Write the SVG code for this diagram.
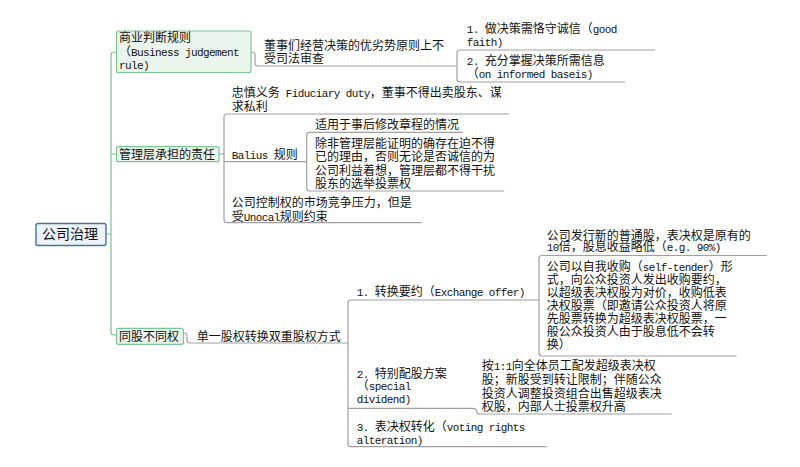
<svg xmlns="http://www.w3.org/2000/svg" width="800" height="467" viewBox="0 0 800 467">
<style>
.t{font-family:"Noto Sans CJK SC","Noto Sans CJK JP",sans-serif;font-size:12px;fill:#111}
.m{font-family:"Liberation Mono","DejaVu Sans Mono",monospace;font-size:11px;letter-spacing:-0.6px}
.g{fill:none;stroke:#78C48F;stroke-width:1.2}
.c{fill:none;stroke:#A0A0A0;stroke-width:1.2}
.gb{fill:#EAF5ED;stroke:#7CC693;stroke-width:1.2}
.rb{fill:#EEF3FA;stroke:#4472A8;stroke-width:1.4}
</style>
<rect width="800" height="467" fill="#fff"/>
<g id="connectors">
<path class="g" d="M106,234 H111 M116,52 H114 Q111,52 111,55 V332 Q111,335 114,335 H116 M111,154 H116"/>
<path class="c" d="M251,52 H252.5 Q255,52 255,55 V63 Q255,66 258,66 H457"/>
<path class="c" d="M655,50 H460 Q457,50 457,53 V79 Q457,82 460,82 H625"/>
<path class="c" d="M219,154 H224"/>
<path class="c" d="M509,114 H227 Q224,114 224,117 V219.7 Q224,222.7 227,222.7 H421.7 M224,161.7 H306.7"/>
<path class="c" d="M462.7,132.3 H309.7 Q306.7,132.3 306.7,135.3 V188 Q306.7,191 309.7,191 H504.3"/>
<path class="c" d="M184,333 H185 Q187,333 187,336 V340 Q187,343 190,343 H348"/>
<path class="c" d="M539,300 H351 Q348,300 348,303 V443.7 Q348,446.7 351,446.7 H546.7 M348,408.3 H472"/>
<path class="c" d="M766.7,255.5 H542 Q539,255.5 539,258.5 V353 Q539,356 542,356 H736.7"/>
<path class="c" d="M472,408.3 Q476.7,408.3 476.7,411.5 Q476.7,414 479.5,414 H671.7"/>
</g>
<g id="root">
<rect class="rb" x="36" y="223.5" width="70" height="22" rx="2"/>
<text class="t" x="42" y="239" style="font-size:14px">公司治理</text>
</g>
<g id="n1">
<rect class="gb" x="116.5" y="31" width="134.5" height="41.5" rx="2"/>
<text class="t" x="119" y="42.3">商业判断规则</text>
<text class="t" x="119" y="55.7">（<tspan class="m">Business judgement</tspan></text>
<text class="t" x="119" y="68.5"><tspan class="m">rule)</tspan></text>
</g>
<g id="n1a">
<text class="t" x="264" y="49.5">董事们经营决策的优劣势原则上不</text>
<text class="t" x="264" y="62.7">受司法审查</text>
</g>
<g id="n1a1">
<text class="t" x="466.7" y="33.3"><tspan class="m">1. </tspan>做决策需恪守诚信（<tspan class="m">good</tspan></text>
<text class="t" x="466.7" y="45.7"><tspan class="m">faith)</tspan></text>
</g>
<g id="n1a2">
<text class="t" x="466.7" y="64.7"><tspan class="m">2. </tspan>充分掌握决策所需信息</text>
<text class="t" x="466.7" y="77.5">（<tspan class="m">on informed baseis)</tspan></text>
</g>
<g id="n2">
<rect class="gb" x="116.5" y="146.7" width="102.5" height="15" rx="2"/>
<text class="t" x="119" y="159">管理层承担的责任</text>
</g>
<g id="n2a">
<text class="t" x="231.7" y="97.3">忠慎义务<tspan class="m"> Fiduciary duty</tspan>，董事不得出卖股东、谋</text>
<text class="t" x="231.7" y="110.5">求私利</text>
</g>
<g id="n2b">
<text class="t" x="231.7" y="159"><tspan class="m">Balius </tspan>规则</text>
</g>
<g id="n2b1">
<text class="t" x="315" y="129">适用于事后修改章程的情况</text>
</g>
<g id="n2b2">
<text class="t" x="315" y="147.5">除非管理层能证明的确存在迫不得</text>
<text class="t" x="315" y="161">已的理由，否则无论是否诚信的为</text>
<text class="t" x="315" y="174.5">公司利益着想，管理层都不得干扰</text>
<text class="t" x="315" y="188">股东的选举投票权</text>
</g>
<g id="n2c">
<text class="t" x="231.7" y="207.3">公司控制权的市场竞争压力，但是</text>
<text class="t" x="231.7" y="220.7">受<tspan class="m">Unocal</tspan>规则约束</text>
</g>
<g id="n3">
<rect class="gb" x="116.5" y="328.3" width="67" height="16" rx="2"/>
<text class="t" x="119" y="341">同股不同权</text>
</g>
<g id="n3a">
<text class="t" x="196.7" y="341">单一股权转换双重股权方式</text>
</g>
<g id="n3a1">
<text class="t" x="356.7" y="296"><tspan class="m">1. </tspan>转换要约（<tspan class="m">Exchange offer)</tspan></text>
</g>
<g id="n3a1a">
<text class="t" x="546.7" y="239.5">公司发行新的普通股，表决权是原有的</text>
<text class="t" x="546.7" y="251"><tspan class="m">10</tspan>倍，股息收益略低（<tspan class="m">e.g. 90%)</tspan></text>
</g>
<g id="n3a1b">
<text class="t" x="546.7" y="270.5">公司以自我收购（<tspan class="m">self-tender</tspan>）形</text>
<text class="t" x="546.7" y="283.5">式，向公众投资人发出收购要约，</text>
<text class="t" x="546.7" y="296.5">以超级表决权股为对价，收购低表</text>
<text class="t" x="546.7" y="309.5">决权股票（即邀请公众投资人将原</text>
<text class="t" x="546.7" y="322.5">先股票转换为超级表决权股票，一</text>
<text class="t" x="546.7" y="335.5">般公众投资人由于股息低不会转</text>
<text class="t" x="546.7" y="348.5">换）</text>
</g>
<g id="n3a2">
<text class="t" x="356.7" y="377.5"><tspan class="m">2. </tspan>特别配股方案</text>
<text class="t" x="356.7" y="390">（<tspan class="m">special</tspan></text>
<text class="t" x="356.7" y="403"><tspan class="m">dividend)</tspan></text>
</g>
<g id="n3a2a">
<text class="t" x="481.7" y="369.5">按<tspan class="m">1:1</tspan>向全体员工配发超级表决权</text>
<text class="t" x="481.7" y="383.5">股；新股受到转让限制；伴随公众</text>
<text class="t" x="481.7" y="397.5">投资人调整投资组合出售超级表决</text>
<text class="t" x="481.7" y="411">权股，内部人士投票权升高</text>
</g>
<g id="n3a3">
<text class="t" x="356.7" y="431"><tspan class="m">3. </tspan>表决权转化（<tspan class="m">voting rights</tspan></text>
<text class="t" x="356.7" y="444"><tspan class="m">alteration)</tspan></text>
</g>
</svg>
